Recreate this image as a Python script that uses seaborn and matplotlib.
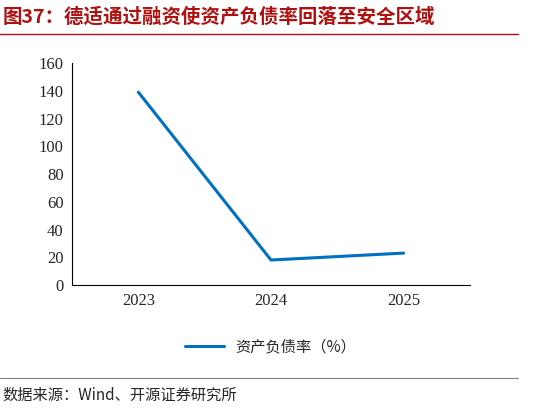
import matplotlib
matplotlib.use("Agg")
import matplotlib.pyplot as plt
import seaborn as sns
import pandas as pd

years = ["2023", "2024", "2025"]
ratio = [139, 18, 23]
title = "图37：德适通过融资使资产负债率回落至安全区域"
source = "数据来源：Wind、开源证券研究所"
series_name = "资产负债率（%）"

sns.set_style("white")
plt.rcParams['font.family'] = ['Noto Sans CJK SC', 'DejaVu Sans']

df = pd.DataFrame({"year": years, "v": ratio})
fig = plt.figure(figsize=(5.51, 4.09), dpi=100)
ax = fig.add_axes([72/551, 1-285/409, (470-72)/551, (285-63)/409])
sns.lineplot(data=df, x="year", y="v", ax=ax, color="#0070C0", lw=2.2, label=series_name, sort=False)
ax.set_ylim(0, 160)
ax.set_yticks(range(0, 161, 20))
ax.set_xlim(-0.5, 2.5)
ax.set_xlabel(""); ax.set_ylabel("")
for s in ["top", "right"]:
    ax.spines[s].set_visible(False)
for s in ["left", "bottom"]:
    ax.spines[s].set_color("black"); ax.spines[s].set_linewidth(0.8)
ax.tick_params(axis="both", labelsize=12, length=0, pad=6)
for t in ax.get_xticklabels() + ax.get_yticklabels():
    t.set_fontfamily(['Liberation Serif', 'DejaVu Serif'])
ax.legend(loc="upper center", bbox_to_anchor=(0.5, -0.18), frameon=False, fontsize=11, handlelength=2.5)

fig.text(0.005, 1-17/409, title, color="#B01010", fontsize=14, fontweight="bold", va="center")
fig.add_artist(plt.Line2D([0, 0.94], [1-34/409, 1-34/409], color="#B01010", lw=1))
fig.add_artist(plt.Line2D([0, 0.94], [1-378/409, 1-378/409], color="#808080", lw=0.8))
fig.text(0.005, 1-395/409, source, fontsize=11, va="center")
fig.savefig("out.png", dpi=100)
